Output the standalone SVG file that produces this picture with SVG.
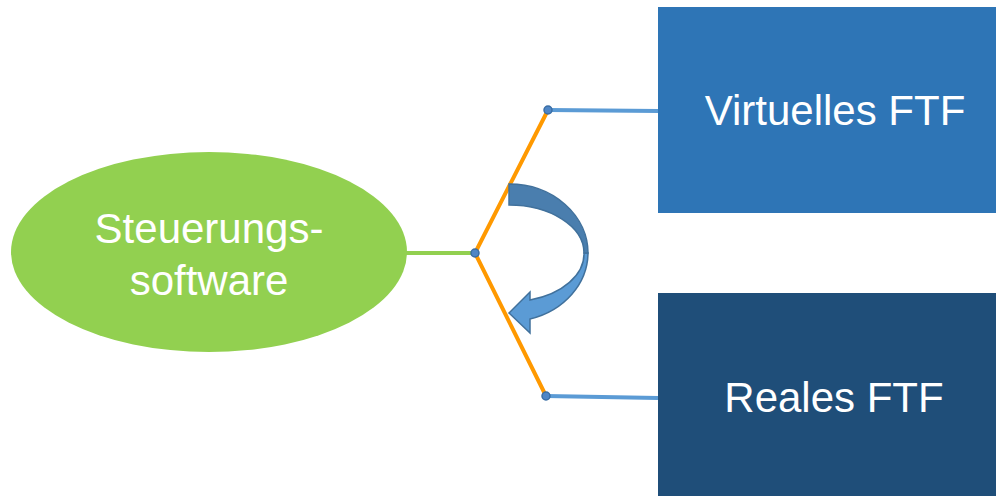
<svg xmlns="http://www.w3.org/2000/svg" width="996" height="496" viewBox="0 0 996 496">
<style>
.lbl{font-family:"Liberation Sans",Arial,sans-serif;fill:#fff;text-anchor:middle}
.ln{fill:none;stroke-width:4;stroke-linecap:butt}
.dot{fill:#4F86C6;stroke:#3A6EA5;stroke-width:1.5}
</style>
<rect width="996" height="496" fill="#fff"/>
<g id="connectors">
<line class="ln" x1="405" y1="253" x2="475" y2="253" stroke="#92D050"/>
<line class="ln" x1="548" y1="110" x2="658" y2="111" stroke="#5B9BD5"/>
<line class="ln" x1="546" y1="396" x2="658" y2="398" stroke="#5B9BD5"/>
<polyline class="ln" points="548,110 475,253 546,396" stroke="#FF9900" stroke-width="5" stroke-linejoin="miter"/>
<circle class="dot" cx="548" cy="110" r="4"/>
<circle class="dot" cx="475" cy="253" r="4"/>
<circle class="dot" cx="546" cy="396" r="4"/>
</g>
<g id="steuerungssoftware">
<ellipse cx="209" cy="252" rx="198" ry="100" fill="#92D050"/>
<text class="lbl" x="209" y="243" font-size="42">Steuerungs-</text>
<text class="lbl" x="209" y="295" font-size="42">software</text>
</g>
<g id="virtuelles-ftf">
<rect x="658" y="7" width="338" height="206" fill="#2E75B6"/>
<text class="lbl" x="835" y="125" font-size="42">Virtuelles FTF</text>
</g>
<g id="reales-ftf">
<rect x="658" y="293" width="338" height="203" fill="#1F4E79"/>
<text class="lbl" x="834" y="412" font-size="42">Reales FTF</text>
</g>
<g id="switch-arrow" stroke="#41719C" stroke-width="1.5" stroke-linejoin="miter">
<path d="M588,253 A79,69 0 0 1 530,319 L530,333 L509,313 L530,292 L530,300 A75,48 0 0 0 584,253 Z" fill="#5B9BD5"/>
<path d="M509,184 A79,69 0 0 1 588,253 L584,253 A75,48 0 0 0 509,205 Z" fill="#4A7EAE"/>
</g>
</svg>
